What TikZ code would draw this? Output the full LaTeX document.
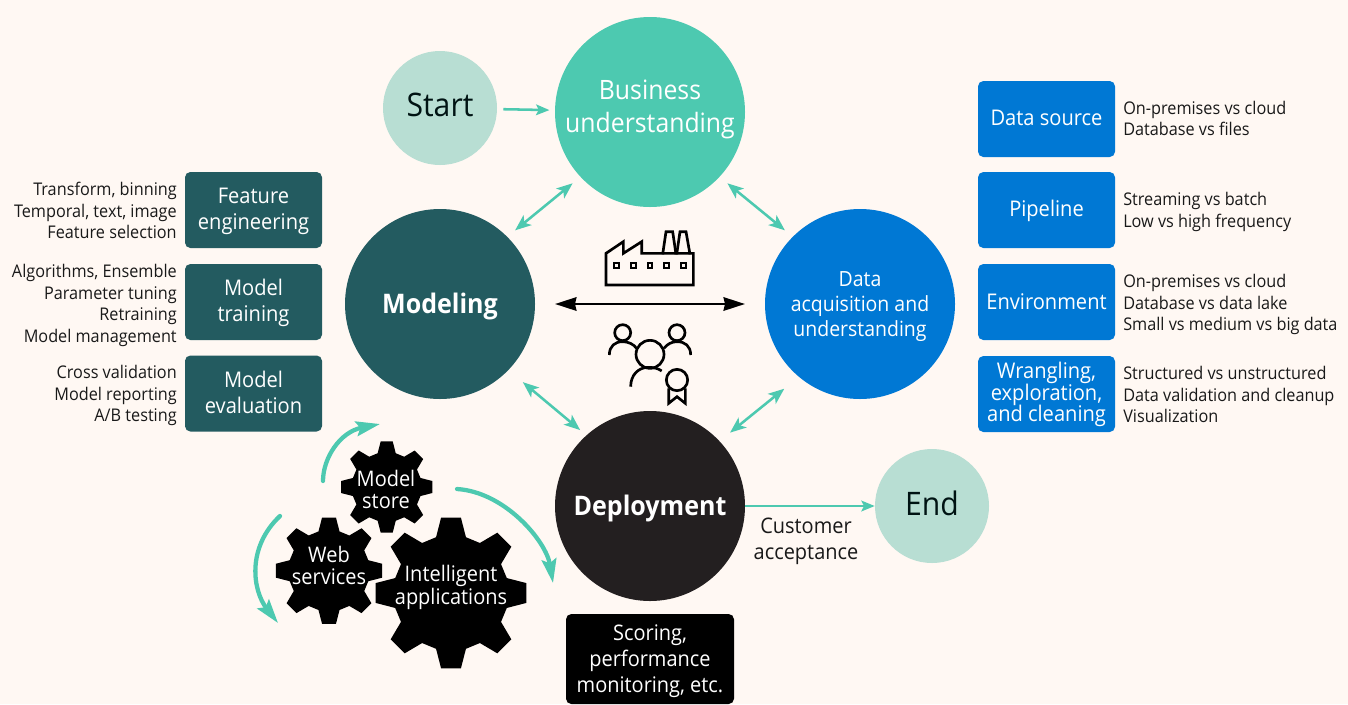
\documentclass[tikz,border=0pt]{standalone}
\usepackage{fontspec}
\setmainfont[FakeStretch=0.93]{Open Sans}
\usetikzlibrary{arrows.meta,calc}
\definecolor{bg}{HTML}{FFF8F3}
\definecolor{teal1}{HTML}{4DC9B0}
\definecolor{pale}{HTML}{B8DED3}
\definecolor{dteal}{HTML}{235B60}
\definecolor{blue1}{HTML}{0078D4}
\definecolor{dep}{HTML}{231F20}
\newcommand\fs[2]{\fontsize{#1}{#2}\selectfont}
\newcommand\gearshape[3]{\fill[black,shift={(#1,#2)}] ({90-15}:{0.76*#3})
  \foreach \i in {0,...,7}{ -- ({\i*45+90-15}:{0.76*#3}) -- ({\i*45+90-7.5}:#3) -- ({\i*45+90+7.5}:#3) -- ({\i*45+90+15}:{0.76*#3}) } -- cycle;}
\tikzset{
  bigc/.style={circle,minimum size=142.5pt,inner sep=0pt},
  smallc/.style={circle,fill=pale,minimum size=85.5pt,inner sep=0pt},
  lab/.style={inner sep=0pt,align=center,text=white},
  smalllab/.style={inner sep=0pt,text=black!85!teal,font=\fs{24.3}{28}},
  tbox/.style={rounded corners=4pt,minimum width=102.75pt,minimum height=57pt,inner sep=0pt},
  boxlab/.style={inner sep=0pt,align=center,text=white,font=\fs{16.2}{19.5}},
  side/.style={inner sep=0pt,font=\fs{13.1}{16.2},text=black!90},
  gearlabel/.style={inner sep=0pt,align=center,text=white,font=\fs{16.1}{16}},
  biarrow/.style={teal1,line width=1.9pt,{Stealth[length=12pt,width=9.5pt,inset=3pt]}-{Stealth[length=12pt,width=9.5pt,inset=3pt]}},
  onearrow/.style={teal1,line width=1.9pt,-{Stealth[length=10pt,width=8pt,inset=2pt]}},
  curved/.style={teal1,line width=3.2pt,line cap=round,-{Stealth[length=18pt,width=11pt,inset=3pt]}},
  icon/.style={line width=2pt},
}
\begin{document}
\begin{tikzpicture}[x=0.75pt,y=-0.75pt]
\useasboundingbox[fill=bg] (0,0) rectangle (1348,704);
% circles
\node[bigc,fill=teal1,label={[lab,font=\fs{20}{24.5},yshift=2pt]center:Business\\understanding}] (biz) at (650,112) {};
\node[bigc,fill=dteal,label={[lab,font=\bfseries\fs{20.2}{24},yshift=-2pt]center:Modeling}] (mod) at (440,304) {};
\node[bigc,fill=blue1,label={[lab,font=\fs{15.7}{19},yshift=-2pt]center:Data\\acquisition and\\understanding}] (data) at (860,304) {};
\node[bigc,fill=dep,label={[lab,font=\bfseries\fs{20.2}{24},yshift=-2pt]center:Deployment}] (depl) at (650,506) {};
\node[smallc,label={[smalllab,yshift=2pt]center:Start}] (start) at (440,108) {};
\node[smallc,label={[smalllab,yshift=2pt]center:End}] (end) at (932,506) {};
% connectors
\draw[onearrow,shorten <=4.5pt,shorten >=4pt] (start) -- (biz);
\draw[onearrow] (depl) -- (end);
\draw[biarrow,shorten <=7.5pt,shorten >=7.5pt] (mod.45) -- (biz.223);
\draw[biarrow,shorten <=7.5pt,shorten >=7.5pt] (biz.-43) -- (data.135);
\draw[biarrow,shorten <=14pt,shorten >=6pt] (mod.-44) -- (depl.132);
\draw[biarrow,shorten <=10pt,shorten >=14pt] (depl.43) -- (data.-130);
\node[inner sep=0pt,align=center,font=\fs{16.1}{19.5},text=black!90] (acc) at (806,541.5) {Customer\\acceptance};
% left boxes
\node[tbox,fill=dteal,label={[boxlab,yshift=-1pt]center:Feature\\engineering}] (fe) at (253.5,210) {};
\node[tbox,fill=dteal,label={[boxlab,yshift=-0.8pt]center:Model\\training}] (mt) at (253.5,302) {};
\node[tbox,fill=dteal,label={[boxlab,yshift=0.7pt]center:Model\\evaluation}] (me) at (253.5,393.5) {};
\node[side,align=right,anchor=east] (fel) at (177,210.5) {Transform, binning\\Temporal, text, image\\Feature selection};
\node[side,align=right,anchor=east] (mtl) at (177,305.5) {Algorithms, Ensemble\\Parameter tuning\\Retraining\\Model management};
\node[side,align=right,anchor=east] (mel) at (177,395.5) {Cross validation\\Model reporting\\A/B testing};
% right boxes
\node[tbox,fill=blue1,label={[boxlab,yshift=0.5pt]center:Data source}] (ds) at (1046.5,119) {};
\node[tbox,fill=blue1,label={[boxlab,yshift=-0.7pt]center:Pipeline}] (pl) at (1046.5,210) {};
\node[tbox,fill=blue1,label={[boxlab]center:Environment}] (ev) at (1046.5,302) {};
\node[tbox,fill=blue1,label={[boxlab,font=\fs{16.2}{16.2},yshift=-0.5pt]center:Wrangling,\\exploration,\\and cleaning}] (wr) at (1046.5,394) {};
\node[side,align=left,anchor=west] (dsl) at (1123,118.5) {On-premises vs cloud\\Database vs files};
\node[side,align=left,anchor=west] (pll) at (1123,212) {Streaming vs batch\\Low vs high frequency};
\node[side,align=left,anchor=west] (evl) at (1123,304.5) {On-premises vs cloud\\Database vs data lake\\Small vs medium vs big data};
\node[side,align=left,anchor=west] (wrl) at (1123,394.5) {Structured vs unstructured\\Data validation and cleanup\\Visualization};
% scoring
\node[fill=black,rounded corners=4pt,minimum width=126pt,minimum height=67.5pt,inner sep=0pt,label={[boxlab,font=\fs{16.1}{19.5},yshift=-1.3pt]center:Scoring,\\performance\\monitoring, etc.}] (sc) at (650,659) {};
% gears
\gearshape{386.7}{487}{46}
\gearshape{329}{570.7}{53.5}
\gearshape{451}{593}{76}
\node[gearlabel] (g1) at (386,489.5) {Model\\store};
\node[gearlabel] (g2) at (329,565.5) {Web\\services};
\node[gearlabel] (g3) at (451,587.5) {Intelligent\\applications};
% curved arrows
\coordinate (c1a) at (323,481); \coordinate (c1b) at (380,424);
\coordinate (c2a) at (280,516); \coordinate (c2b) at (278,623);
\coordinate (c3a) at (457,489); \coordinate (c3b) at (553,583);
\draw[curved] (c1a) .. controls (323,458) and (340,432) .. (c1b);
\draw[curved] (c2a) .. controls (246,548) and (253,591) .. (c2b);
\draw[curved] (c3a) .. controls (505,492) and (546,541) .. (c3b);
% black arrow
\coordinate (ba) at (555,304); \coordinate (bb) at (745,304);
\draw[black,line width=2.1pt,{Stealth[length=16pt,width=10pt,inset=1pt]}-{Stealth[length=16pt,width=10pt,inset=1pt]}] (ba) -- (bb);
% icons
\begin{scope}[shift={(540,220)},x=0.25pt,y=-0.25pt,black]
\draw[icon,miter limit=10] (198,195) -- (198,100) -- (250,65) -- (250,100) -- (305,65) -- (305,100) -- (460,100) -- (460,195) -- cycle;
\draw[icon] (368,103) -- (378,35) -- (398,35) -- (408,103);
\draw[icon] (410,103) -- (420,35) -- (438,35) -- (450,103);
\foreach \wx in {230,280,330,380,430}{\draw[line width=1.5pt] (\wx-7,130) rectangle (\wx+7,144);}
\draw[icon] (248,338) circle[radius=24];
\draw[icon] (411,338) circle[radius=24];
\draw[icon] (330,403) circle[radius=42];
\draw[icon] (411,480) circle[radius=32];
\draw[icon] (208,405) .. controls (208,378) and (225,365) .. (248,365) .. controls (265,365) and (280,372) .. (290,385);
\draw[icon] (452,405) .. controls (452,378) and (435,365) .. (411,365) .. controls (395,365) and (382,372) .. (372,385);
\draw[icon] (272,500) .. controls (272,465) and (295,442) .. (325,442) .. controls (340,442) and (355,445) .. (365,453);
\draw[icon] (386,505) -- (386,550) -- (411,530) -- (436,550) -- (436,505);
\end{scope}
\end{tikzpicture}
\end{document}
